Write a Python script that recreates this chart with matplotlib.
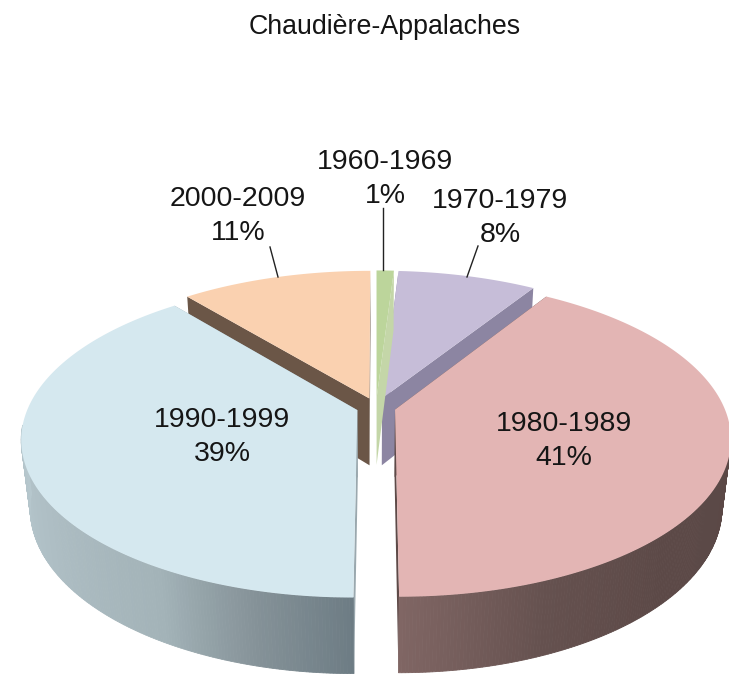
import numpy as np
import matplotlib
matplotlib.use("Agg")
import matplotlib.pyplot as plt
from matplotlib.colors import to_rgb

TITLE = "Chaudière-Appalaches"
decades = ["1960-1969", "1970-1979", "1980-1989", "1990-1999", "2000-2009"]
shares = [1, 8, 41, 39, 11]

top_colors = ["#BCD59B", "#C6BDD8", "#E3B5B4", "#D5E8EF", "#FAD1B0"]
cut_colors = ["#C4D6A8", "#8C85A2", "#5E4A48", "#9AA8AE", "#6B5647"]
wall_stops = [
    ([0, 360], ["#8FA070", "#8FA070"]),
    ([0, 360], ["#8C85A2", "#8C85A2"]),
    ([90, 135, 158, 180], ["#5A4846", "#5C4947", "#65514F", "#806664"]),
    ([180, 195, 210, 240, 270], ["#6D7C84", "#869399", "#A3B3B8", "#AFBFC5", "#B8C9CF"]),
    ([0, 360], ["#6B5647", "#6B5647"]),
]
label_xy = [(385, 162), (500, 201), (564, 424), (222, 420), (238, 199)]
leaders = [((383, 270), (383, 208)), ((467, 277), (478, 246)), None, None, ((278, 277), (270, 247))]

CX, CY, R, RS, K, H, M, E = 376.0, 407.0, 329.0, 153.0, 0.177, 69.0, 0.025, 0.06


def project(u, v, z=0.0):
    w = 1 - K * v + M * z
    return CX + R * u / w, CY + (RS * v + H * z) / w


def interp_color(theta, stops):
    xs, cols = stops
    rgb = np.array([to_rgb(c) for c in cols])
    return tuple(np.interp(theta, xs, rgb[:, i]) for i in range(3))


fig = plt.figure(figsize=(7.29, 6.75), dpi=100, facecolor="white")
ax = fig.add_axes([0, 0, 1, 1])
ax.set_xlim(0, 729)
ax.set_ylim(675, 0)
ax.axis("off")

edges = np.cumsum([0] + shares) / sum(shares) * 360.0
slices = []
for i in range(len(shares)):
    a0, a1 = edges[i], edges[i + 1]
    mid = np.radians((a0 + a1) / 2)
    ex, ey = E * np.sin(mid), -E * np.cos(mid)
    slices.append((i, a0, a1, ex, ey))

# back slices first, front slices last
order = [4, 1, 0, 3, 2]
for i, a0, a1, ex, ey in (slices[j] for j in order):
    thetas = np.linspace(a0, a1, max(int((a1 - a0) * 2), 8))
    rad = np.radians(thetas)
    us, vs = ex + np.sin(rad), ey - np.cos(rad)

    # radial cut faces
    for a, u_end, v_end in ((a0, us[0], vs[0]), (a1, us[-1], vs[-1])):
        p = [project(ex, ey), project(u_end, v_end), project(u_end, v_end, 1), project(ex, ey, 1)]
        ax.fill(*zip(*p), color=cut_colors[i], lw=0, zorder=2 + order.index(i) * 3)

    # outer wall, only where it faces the viewer
    for j in range(len(thetas) - 1):
        if -np.cos(rad[j]) < 0.1:
            continue
        p = [project(us[j], vs[j]), project(us[j + 1], vs[j + 1]),
             project(us[j + 1], vs[j + 1], 1), project(us[j], vs[j], 1)]
        c = interp_color((thetas[j] + thetas[j + 1]) / 2, wall_stops[i])
        ax.fill(*zip(*p), color=c, lw=0.6, zorder=3 + order.index(i) * 3)

    # top face
    tx, ty = project(np.r_[ex, us], np.r_[ey, vs])
    ax.fill(tx, ty, color=top_colors[i], lw=0, zorder=4 + order.index(i) * 3)

for name, share, (lx, ly), lead in zip(decades, shares, label_xy, leaders):
    ax.text(lx, ly, name, ha="center", va="center", fontsize=20.5,
            family="Liberation Sans", color="#151515", zorder=30)
    ax.text(lx, ly + 34, f"{share}%", ha="center", va="center", fontsize=20.5,
            family="Liberation Sans", color="#151515", zorder=30)
    if lead:
        ax.plot(*zip(*lead), color="#222222", lw=1.0, zorder=29)

ax.text(385, 27, TITLE, ha="center", va="center", fontsize=19.3,
        family="Liberation Sans", color="#151515")

fig.savefig("out.png", dpi=100, facecolor="white")
